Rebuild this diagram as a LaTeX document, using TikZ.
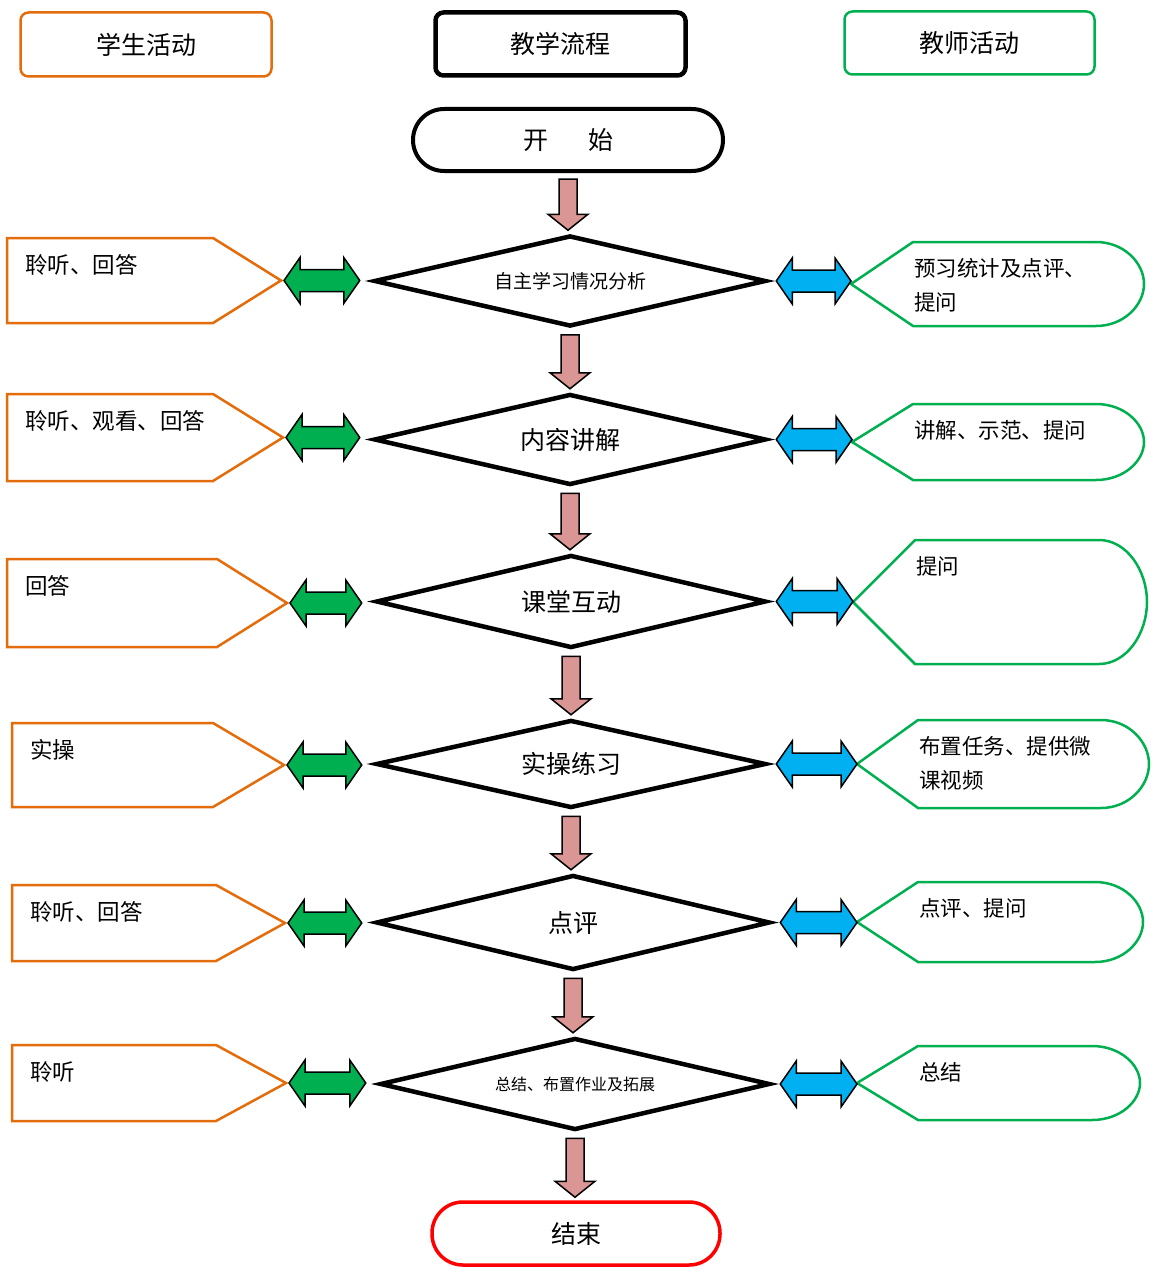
\documentclass[tikz,border=0pt]{standalone}
\usepackage{fontspec}
\setmainfont{Noto Sans CJK SC}
\usetikzlibrary{shapes.geometric,calc}
\definecolor{orng}{HTML}{E46C0A}
\definecolor{grn}{HTML}{00B050}
\definecolor{blu}{HTML}{00B0F0}
\definecolor{pnk}{HTML}{D99694}
\newcommand\lfont{\fontsize{22.5}{34}\selectfont}
\newcommand\rfont{\fontsize{21.5}{34}\selectfont}
\newcommand\stuL[7]{%
  \draw[lbox] (#2,#3) -- (#5,#3) -- (#6,{(#3+#4)/2}) -- (#5,#4) -- (#2,#4) -- cycle;
  \coordinate (#1tip) at (#6,{(#3+#4)/2});
  \node[sidetxt, font=\lfont] (#1txt) at (#2+18,#3+16) {#7};
}
\newcommand\tchR[7]{%
  \draw[rbox] (#2,{(#3+#4)/2}) -- (#5,#3) -- (#6-48,#3)
    .. controls (#6-20,#3) and (#6,{#3+(#4-#3)/4}) .. (#6,{(#3+#4)/2})
    .. controls (#6,{#4-(#4-#3)/4}) and (#6-20,#4) .. (#6-48,#4) -- (#5,#4) -- cycle;
  \coordinate (#1tip) at (#2,{(#3+#4)/2});
  \node[sidetxt, font=\rfont] (#1txt) at (#5+1,#3+16) {#7};
}
\begin{document}
\begin{tikzpicture}[x=1pt,y=-1pt,
  hdr/.style={rectangle, rounded corners=8pt, inner sep=0, font=\fontsize{25}{30}\selectfont},
  dia/.style={diamond, aspect=4.2, draw, line width=4.5pt, inner sep=0, font=\fontsize{25}{30}\selectfont},
  term/.style={rectangle, rounded corners=31pt, inner sep=0, font=\fontsize{25}{30}\selectfont},
  lbox/.style={draw=orng, line width=2.5pt},
  rbox/.style={draw=grn, line width=2.5pt},
  sidetxt/.style={anchor=north west, inner sep=0, align=left},
  blk/.style={draw=black, line width=1.5pt},
  vblock/.style={to path={let \p1=(\tikztostart), \p2=(\tikztotarget) in
    (\x1-9pt,\y1-6pt) -- (\x1+9pt,\y1-6pt) -- (\x1+9pt,\y2+19pt) -- (\x1+20pt,\y2+19pt)
    -- (\x1,\y2+3pt) -- (\x1-20pt,\y2+19pt) -- (\x1-9pt,\y2+19pt) -- cycle}},
  hblock/.style={to path={let \p1=(\tikztostart), \p2=(\tikztotarget) in
    (\x1,\y1) -- (\x1+16pt,\y1+23pt) -- (\x1+16pt,\y1+11pt) -- (\x2-16pt,\y1+11pt)
    -- (\x2-16pt,\y1+23pt) -- (\x2,\y1) -- (\x2-16pt,\y1-23pt) -- (\x2-16pt,\y1-11pt)
    -- (\x1+16pt,\y1-11pt) -- (\x1+16pt,\y1-23pt) -- cycle}}
]
\useasboundingbox (0,0) rectangle (1151,1271);
\fill[white] (0,0) rectangle (1151,1271);

% headers
\node[hdr, draw=orng, line width=2.5pt, minimum width=251pt, minimum height=64pt] (hstu) at (146,44.5) {学生活动};
\node[hdr, draw=black, line width=4.5pt, minimum width=250pt, minimum height=63pt] (hflow) at (560.5,44) {教学流程};
\node[hdr, draw=grn, line width=2.5pt, minimum width=250pt, minimum height=63pt] (htch) at (969.5,43) {教师活动};

% terminals
\node[term, draw=black, line width=4pt, minimum width=310pt, minimum height=62pt] (start) at (568,140) {开\hspace{1.6em}始};
\node[term, draw=red, line width=3.5pt, minimum width=288pt, minimum height=63pt] (finish) at (576,1233.5) {结束};

% diamonds
\node[dia, minimum width=392pt, minimum height=91pt, font=\fontsize{19}{22}\selectfont] (d1) at (570,281) {自主学习情况分析};
\node[dia, minimum width=392pt, minimum height=91pt] (d2) at (570,439.5) {内容讲解};
\node[dia, minimum width=390pt, minimum height=93pt] (d3) at (571,601.5) {课堂互动};
\node[dia, minimum width=390pt, minimum height=88pt] (d4) at (571,764) {实操练习};
\node[dia, minimum width=394pt, minimum height=95pt] (d5) at (573,922.5) {点评};
\node[dia, minimum width=390pt, minimum height=92pt, font=\fontsize{16}{20}\selectfont] (d6) at (575,1084) {总结、布置作业及拓展};

% student boxes
\stuL{L1}{7}{238}{323}{213}{281}{聆听、回答}
\stuL{L2}{7}{394}{481}{213}{283}{聆听、观看、回答}
\stuL{L3}{7}{559}{647}{217}{287}{回答}
\stuL{L4}{12}{723}{807}{213}{284}{实操}
\stuL{L5}{12}{885}{961}{216}{285}{聆听、回答}
\stuL{L6}{12}{1045}{1121}{216}{286}{聆听}

% teacher boxes
\tchR{R1}{851}{242}{326}{913}{1144}{预习统计及点评、\\提问}
\tchR{R2}{852}{404}{480}{913}{1144}{讲解、示范、提问}
\tchR{R3}{853}{540}{664}{915}{1147}{提问}
\tchR{R4}{857}{720}{808}{918}{1149}{布置任务、提供微\\课视频}
\tchR{R5}{857}{882}{962}{918}{1143}{点评、提问}
\tchR{R6}{857}{1046}{1120}{918}{1140}{总结}

% down arrows
\draw[blk, fill=pnk, vblock] (start.south) to (d1.north);
\draw[blk, fill=pnk, vblock] (d1.south) to (d2.north);
\draw[blk, fill=pnk, vblock] (d2.south) to (d3.north);
\draw[blk, fill=pnk, vblock] (d3.south) to (d4.north);
\draw[blk, fill=pnk, vblock] (d4.south) to (d5.north);
\draw[blk, fill=pnk, vblock] (d5.south) to (d6.north);
\draw[blk, fill=pnk, vblock] (d6.south) to (finish.north);

% green double arrows
\draw[blk, fill=grn, hblock] ($(L1tip)+(3,0)$) to ($(d1.west)+(-12,0)$);
\draw[blk, fill=grn, hblock] ($(L2tip)+(3,0)$) to ($(d2.west)+(-12,0)$);
\draw[blk, fill=grn, hblock] ($(L3tip)+(3,0)$) to ($(d3.west)+(-12,0)$);
\draw[blk, fill=grn, hblock] ($(L4tip)+(3,0)$) to ($(d4.west)+(-12,0)$);
\draw[blk, fill=grn, hblock] ($(L5tip)+(3,0)$) to ($(d5.west)+(-12,0)$);
\draw[blk, fill=grn, hblock] ($(L6tip)+(3,0)$) to ($(d6.west)+(-12,0)$);

% blue double arrows
\draw[blk, fill=blu, hblock] ($(d1.east)+(8,0)$) to (R1tip);
\draw[blk, fill=blu, hblock] ($(d2.east)+(8,0)$) to (R2tip);
\draw[blk, fill=blu, hblock] ($(d3.east)+(8,0)$) to (R3tip);
\draw[blk, fill=blu, hblock] ($(d4.east)+(8,0)$) to (R4tip);
\draw[blk, fill=blu, hblock] ($(d5.east)+(8,0)$) to (R5tip);
\draw[blk, fill=blu, hblock] ($(d6.east)+(8,0)$) to (R6tip);
\end{tikzpicture}
\end{document}
